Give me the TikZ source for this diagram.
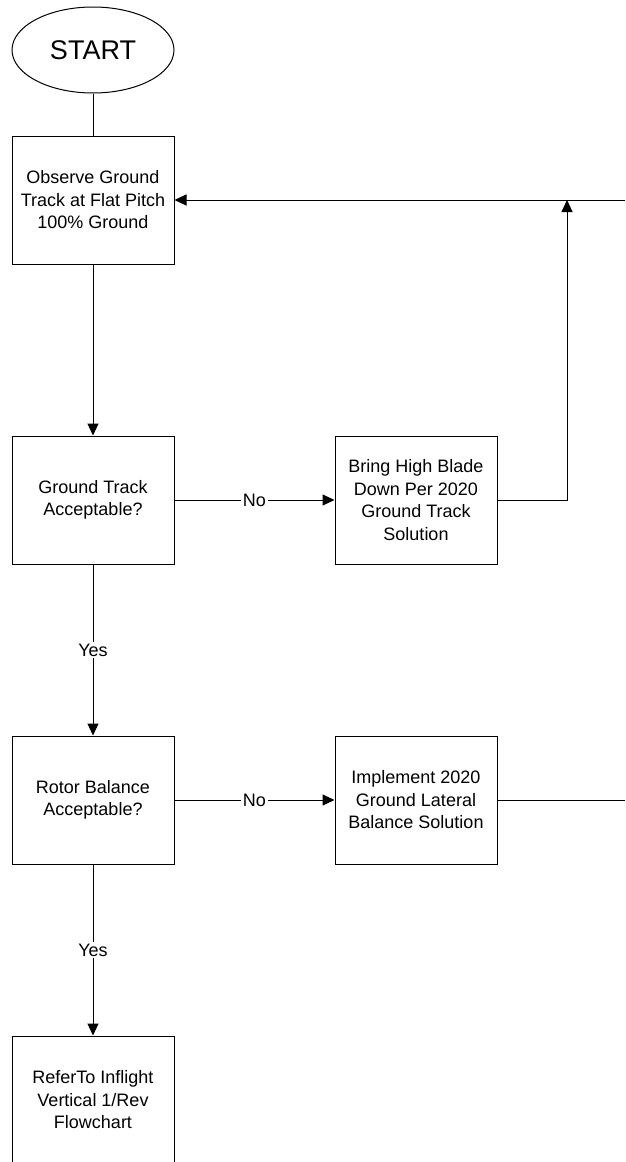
\documentclass[tikz,border=0pt]{standalone}
\usepackage{fontspec}
\setmainfont{Liberation Sans}
\usetikzlibrary{arrows.meta,shapes.geometric}
\begin{document}
\begin{tikzpicture}[x=1pt,y=-1pt,
 box/.style={draw, line width=1pt, minimum width=162pt, minimum height=128pt, inner sep=0pt, align=center, font=\fontsize{18}{22.5}\selectfont},
 term/.style={draw, ellipse, line width=1pt, minimum width=162pt, minimum height=86pt, inner sep=0pt, font=\fontsize{27}{30}\selectfont},
 conn/.style={line width=1pt},
 arr/.style={conn, -{Triangle[length=12pt,width=11pt]}},
 lbl/.style={fill=white, inner sep=1.5pt, font=\fontsize{18}{22}\selectfont}]
\clip (0,0) rectangle (625,1162);
\fill[white] (0,0) rectangle (625,1162);
\node[term] (start) at (93,50) {START};
\node[box] (observe) at (93,200) {Observe Ground\\Track at Flat Pitch\\100\% Ground};
\node[box] (gta) at (93,500) {Ground Track\\Acceptable?};
\node[box] (bring) at (416,500) {Bring High Blade\\Down Per 2020\\Ground Track\\Solution};
\node[box] (rba) at (93,800) {Rotor Balance\\Acceptable?};
\node[box] (impl) at (416,800) {Implement 2020\\Ground Lateral\\Balance Solution};
\node[box] (refer) at (93,1100) {ReferTo Inflight\\Vertical 1/Rev\\Flowchart};
\coordinate (inR) at (625,200);
\coordinate (outR) at (625,800);
\coordinate (turn) at (567,500);
\coordinate (join) at (567,200);
\draw[conn] (start) -- (observe);
\draw[arr] (observe) -- (gta);
\draw[arr] (gta) -- node[lbl]{No} (bring);
\draw[arr] (gta) -- node[lbl]{Yes} (rba);
\draw[arr] (rba) -- node[lbl]{No} (impl);
\draw[arr] (rba) -- node[lbl]{Yes} (refer);
\draw[arr] (inR) -- (observe);
\draw[arr] (bring.east) -- (turn) -- (join);
\draw[conn] (impl) -- (outR);
\end{tikzpicture}
\end{document}
